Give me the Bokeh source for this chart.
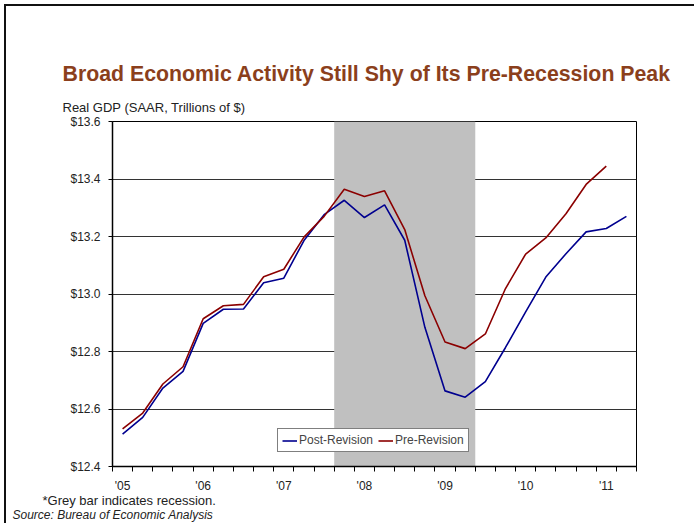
from bokeh.plotting import figure
from bokeh.models import (ColumnDataSource, FixedTicker, NumeralTickFormatter, Range1d,
                          Legend, LegendItem, Title)
from bokeh.embed import file_html
from bokeh.resources import INLINE

# Quarterly real GDP, SAAR, trillions of chained dollars
quarters = ["2005Q1", "2005Q2", "2005Q3", "2005Q4",
            "2006Q1", "2006Q2", "2006Q3", "2006Q4",
            "2007Q1", "2007Q2", "2007Q3", "2007Q4",
            "2008Q1", "2008Q2", "2008Q3", "2008Q4",
            "2009Q1", "2009Q2", "2009Q3", "2009Q4",
            "2010Q1", "2010Q2", "2010Q3", "2010Q4",
            "2011Q1", "2011Q2"]
post_revision = [12.513, 12.571, 12.673, 12.731, 12.898, 12.947, 12.948, 13.039,
                 13.055, 13.186, 13.276, 13.326, 13.266, 13.310, 13.187, 12.884,
                 12.663, 12.641, 12.695, 12.814, 12.938, 13.059, 13.140, 13.216,
                 13.228, 13.270]
pre_revision = [12.531, 12.586, 12.687, 12.747, 12.914, 12.959, 12.964, 13.060,
                13.086, 13.198, 13.270, 13.364, 13.339, 13.359, 13.224, 12.994,
                12.833, 12.810, 12.861, 13.019, 13.139, 13.195, 13.279, 13.381,
                13.445]
year_labels = ["'05", "'06", "'07", "'08", "'09", "'10", "'11"]
year_first_quarter = ["2005Q1", "2006Q1", "2007Q1", "2008Q1", "2009Q1", "2010Q1", "2011Q1"]
recession_quarters = ["2007Q4", "2009Q2"]
y_ticks = [12.4, 12.6, 12.8, 13.0, 13.2, 13.4, 13.6]

FONT = "Liberation Sans"
BLUE = "#00008f"
RED = "#8b0000"
TITLE_COLOR = "#8b3f1c"
TEXT = "#222222"

n = len(quarters)
pos = {q: i + 0.5 for i, q in enumerate(quarters)}

post_src = ColumnDataSource(dict(x=[pos[q] for q in quarters], y=post_revision))
pre_src = ColumnDataSource(dict(x=[pos[q] for q in quarters[:len(pre_revision)]], y=pre_revision))

# the page frame (left and top rules) is drawn as a CSS border around the canvas
p = figure(width=690, height=519, output_backend="svg", toolbar_location=None,
           x_range=Range1d(0, n), y_range=Range1d(y_ticks[0], y_ticks[-1]),
           min_border_left=106, min_border_right=60, min_border_top=115,
           min_border_bottom=59,
           styles={"margin-left": "4px", "margin-top": "4px",
                   "border-left": "2px solid #111111",
                   "border-top": "2px solid #111111"})
p.title.visible = False
p.background_fill_color = "white"
p.border_fill_color = "white"
p.outline_line_color = "black"
p.outline_line_width = 1

# grey recession band, spanning whole quarters
rec_left = pos[recession_quarters[0]] - 0.5
rec_right = pos[recession_quarters[1]] + 0.5
p.quad(left=[rec_left], right=[rec_right], bottom=[y_ticks[0]], top=[y_ticks[-1]],
       fill_color="#c0c0c0", line_color=None)

r_post = p.line("x", "y", source=post_src, line_color=BLUE, line_width=1.6)
r_pre = p.line("x", "y", source=pre_src, line_color=RED, line_width=1.6)

# grid
p.xgrid.visible = False
p.ygrid.ticker = FixedTicker(ticks=y_ticks)
p.ygrid.grid_line_color = "#333333"
p.ygrid.grid_line_width = 1

# y axis
ya = p.yaxis[0]
ya.ticker = FixedTicker(ticks=y_ticks)
ya.formatter = NumeralTickFormatter(format="$0.0")
ya.axis_line_color = "black"
ya.axis_line_width = 1.5
ya.major_tick_out = 4
ya.major_tick_in = 0
ya.minor_tick_out = 0
ya.major_tick_line_color = "black"
ya.major_label_standoff = 8
ya.major_label_text_font = FONT
ya.major_label_text_font_size = "12px"
ya.major_label_text_color = TEXT

# x axis: tick marks between quarters, year labels at first quarter
xa = p.xaxis[0]
year_pos = [pos[q] for q in year_first_quarter]
xa.ticker = FixedTicker(ticks=year_pos, minor_ticks=list(range(n + 1)))
xa.major_label_overrides = {v: lab for v, lab in zip(year_pos, year_labels)}
xa.axis_line_color = "black"
xa.axis_line_width = 1.5
xa.major_tick_out = 0
xa.major_tick_in = 0
xa.minor_tick_out = 5
xa.minor_tick_in = 0
xa.minor_tick_line_color = "black"
xa.major_label_standoff = 7
xa.major_label_text_font = FONT
xa.major_label_text_font_size = "12px"
xa.major_label_text_color = TEXT

legend = Legend(items=[LegendItem(label="Post-Revision", renderers=[r_post]),
                       LegendItem(label="Pre-Revision", renderers=[r_pre])],
                location=(165, 14), orientation="horizontal",
                glyph_width=15, glyph_height=11, label_height=11,
                label_standoff=2, spacing=5, padding=4, margin=0,
                label_text_font=FONT, label_text_font_size="12px",
                border_line_color="black", border_line_width=1,
                background_fill_color="white", background_fill_alpha=1)
p.add_layout(legend, "center")

# headings above the frame (first added sits nearest the frame)
p.add_layout(Title(text="Real GDP (SAAR, Trillions of $)", align="left", offset=-50,
                   standoff=14, text_font=FONT, text_font_size="13px",
                   text_font_style="normal", text_color=TEXT), "above")
p.add_layout(Title(text="Broad Economic Activity Still Shy of Its Pre-Recession Peak",
                   align="left", offset=-50, standoff=10, text_font=FONT,
                   text_font_size="21.3px", text_font_style="bold",
                   text_color=TITLE_COLOR), "above")

# footnotes below the axis
p.add_layout(Title(text="*Grey bar indicates recession.", align="left", offset=-70,
                   standoff=-9, text_font=FONT, text_font_size="13px",
                   text_font_style="normal", text_color=TEXT), "below")
p.add_layout(Title(text="Source: Bureau of Economic Analysis", align="left", offset=-100,
                   standoff=4, text_font=FONT, text_font_size="12px",
                   text_font_style="italic", text_color=TEXT), "below")

open("out.html", "w").write(file_html(p, INLINE))
